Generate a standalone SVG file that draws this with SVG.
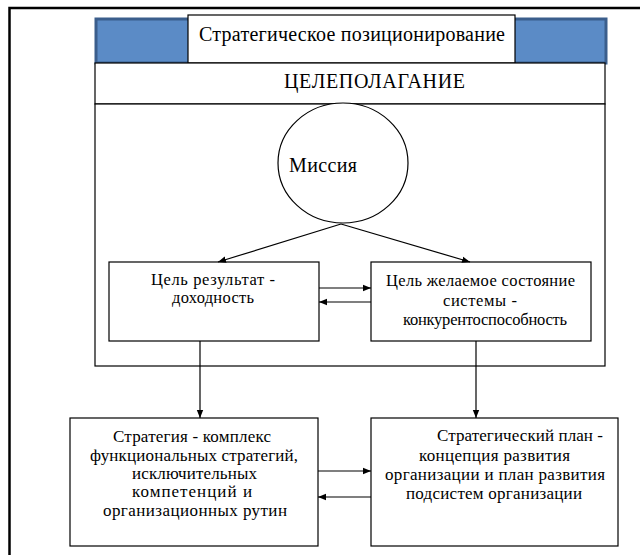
<svg xmlns="http://www.w3.org/2000/svg" width="640" height="555" viewBox="0 0 640 555">
<defs>
<marker id="ah" viewBox="0 0 10 10" refX="10" refY="5" markerWidth="8" markerHeight="8" markerUnits="userSpaceOnUse" orient="auto">
<path d="M0,1 L10,5 L0,9 Z" fill="#000"/>
</marker>
<style>
.box{fill:#fff;stroke:#000;stroke-width:1.2}
.t{font-family:"Liberation Serif","Times New Roman",serif;font-size:17px;fill:#000}
.m{font-size:16.5px}
.big{font-size:20px}
.c{stroke:#000;stroke-width:1.2;fill:none;marker-end:url(#ah)}
</style>
</defs>
<rect width="640" height="555" fill="#fff"/>
<g id="frame">
<path d="M9.5,555 V8 H640" fill="none" stroke="#000" stroke-width="2.5"/>
</g>
<g id="header">
<rect x="96" y="19" width="510" height="44" fill="#5b8bc6" stroke="#3b5e8c" stroke-width="3"/>
<rect x="188" y="15" width="327" height="48" class="box"/>
<text x="199" y="41" class="t big" textLength="306">Стратегическое позиционирование</text>
</g>
<g id="goalsetting">
<rect x="95" y="63" width="510" height="41" class="box"/>
<text x="284" y="88" class="t big" textLength="181">ЦЕЛЕПОЛАГАНИЕ</text>
<rect x="95" y="104" width="510" height="262" class="box"/>
</g>
<g id="mission">
<ellipse cx="343" cy="163" rx="65" ry="60" class="box"/>
<text x="289" y="172" class="t big" textLength="68">Миссия</text>
</g>
<g id="goal-result">
<rect x="109" y="262" width="210" height="79" class="box"/>
<text x="151" y="285" class="t m" textLength="124">Цель результат  -</text>
<text x="172" y="303" class="t m" textLength="82">доходность</text>
</g>
<g id="goal-state">
<rect x="371" y="262" width="220" height="79" class="box"/>
<text x="386" y="286" class="t m" textLength="189">Цель желаемое состояние</text>
<text x="443" y="306" class="t m" textLength="74">системы -</text>
<text x="403" y="325" class="t m" textLength="164">конкурентоспособность</text>
</g>
<g id="strategy">
<rect x="70" y="418" width="248" height="128" class="box"/>
<text x="113" y="442" class="t" textLength="158">Стратегия - комплекс</text>
<text x="90" y="461" class="t" textLength="208">функциональных стратегий,</text>
<text x="132" y="479" class="t" textLength="125">исключительных</text>
<text x="132" y="497" class="t" textLength="120">компетенций и</text>
<text x="103" y="516" class="t" textLength="184">организационных рутин</text>
</g>
<g id="plan">
<rect x="371" y="418" width="247" height="128" class="box"/>
<text x="437" y="441" class="t" textLength="166">Стратегический план -</text>
<text x="419" y="461" class="t" textLength="151">концепция развития</text>
<text x="385" y="480" class="t" textLength="220">организации и план развития</text>
<text x="406" y="499" class="t" textLength="176">подсистем организации</text>
</g>
<g id="connectors">
<line x1="341" y1="224" x2="218" y2="262" class="c"/>
<line x1="341" y1="224" x2="470" y2="262" class="c"/>
<line x1="319" y1="288" x2="371" y2="288" class="c"/>
<line x1="371" y1="302" x2="319" y2="302" class="c"/>
<line x1="200" y1="341" x2="200" y2="418" class="c"/>
<line x1="476" y1="341" x2="476" y2="418" class="c"/>
<line x1="318" y1="471" x2="371" y2="471" class="c"/>
<line x1="371" y1="497" x2="318" y2="497" class="c"/>
</g>
</svg>
